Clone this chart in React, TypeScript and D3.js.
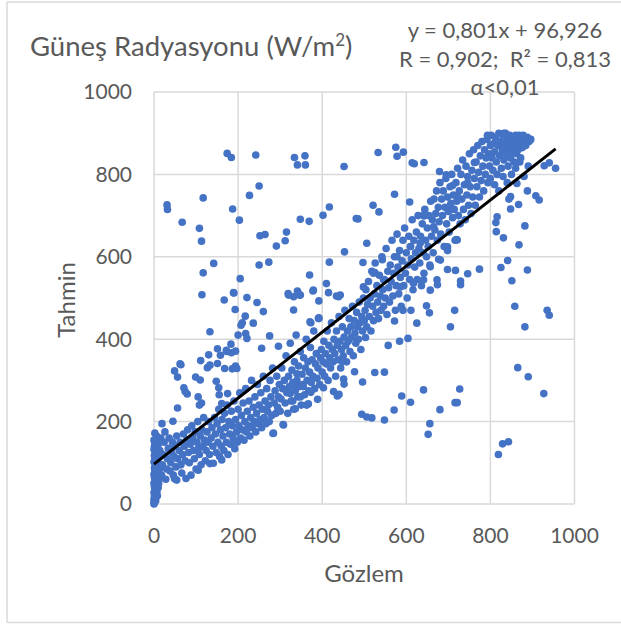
import React from "react";
import * as d3 from "d3";

type Pt = [number, number];

// Gözlem (x) / Tahmin (y) pairs
const nightObs: Pt[] = [
  [0, 5], [0, 12], [1, 20], [0, 28], [2, 35], [1, 42], [0, 50], [3, 58], [1, 65], [0, 72],
  [2, 80], [1, 88], [4, 95], [0, 102], [2, 110], [1, 118], [3, 125], [0, 132], [5, 140], [2, 148],
  [0, 155], [6, 18], [7, 30], [5, 45], [8, 55], [6, 68], [9, 78], [7, 90], [10, 100], [8, 112],
  [11, 122], [9, 135], [12, 60], [13, 85], [4, 8], [3, 15], [2, 25], [5, 38], [1, 52], [4, 62],
  [2, 75], [6, 105], [3, 115], [7, 128], [1, 140], [4, 150], [10, 40], [12, 70], [14, 95], [15, 115],
  [0, 0], [1, 3], [3, 48], [8, 20], [10, 145], [14, 130], [16, 160], [6, 165], [2, 172], [11, 50],
];

const lowBand: Pt[] = [
  [18, 70], [20, 95], [22, 120], [24, 150], [26, 175], [19, 195], [28, 60], [30, 85], [32, 110], [34, 135],
  [36, 160], [38, 80], [40, 100], [42, 125], [44, 150], [45, 201], [46, 70], [48, 115], [50, 140], [52, 90],
  [54, 165], [56, 233], [56, 110], [54, 58], [49, 61], [60, 130], [62, 150], [64, 95], [66, 75], [68, 120],
  [70, 170], [72, 140], [74, 105], [76, 62], [78, 155], [80, 180], [82, 125], [84, 100], [86, 145], [88, 70],
  [90, 190], [92, 160], [94, 130], [96, 110], [98, 175], [100, 85], [102, 150], [104, 200], [105, 82], [106, 135],
  [108, 120], [110, 165], [112, 95], [114, 180], [116, 140], [118, 210], [120, 155], [122, 105], [124, 130], [126, 175],
  [128, 150], [130, 200], [132, 120], [133, 98], [136, 160], [138, 185], [140, 140], [141, 99], [144, 210], [146, 170],
  [148, 125], [150, 195], [152, 150], [154, 230], [156, 115], [158, 180], [160, 140], [161, 107], [162, 205], [164, 165],
  [166, 130], [168, 220], [170, 185], [172, 150], [174, 240], [176, 120], [178, 200], [180, 170], [182, 145], [184, 225],
  [186, 190], [188, 160], [190, 250], [192, 134], [194, 205], [196, 175], [198, 150], [200, 230], [202, 190], [204, 270],
  [206, 160], [208, 215], [210, 180], [212, 245], [214, 155], [216, 200], [218, 280], [220, 175], [222, 225], [224, 190],
  [226, 250], [228, 165], [230, 210], [232, 300], [234, 185], [236, 235], [238, 200], [240, 260], [242, 175], [244, 220],
  [246, 290], [248, 195], [250, 240], [252, 205], [254, 270], [256, 185], [258, 230], [260, 310], [262, 210], [264, 250],
  [266, 195], [268, 280], [270, 225], [272, 240], [274, 200], [276, 300], [278, 260], [280, 215], [282, 330], [284, 172],
  [286, 245], [288, 275], [290, 220], [292, 310], [294, 235], [296, 260], [298, 290], [300, 225], [307, 193], [283, 171],
];

const midBand: Pt[] = [
  [302, 255], [304, 330], [306, 280], [308, 192], [310, 300], [312, 245], [314, 360], [316, 270], [318, 220], [320, 310],
  [322, 285], [324, 390], [326, 250], [328, 325], [330, 295], [332, 230], [334, 345], [336, 275], [338, 410], [340, 300],
  [342, 260], [344, 335], [346, 285], [348, 370], [350, 240], [352, 315], [354, 290], [356, 355], [358, 265], [360, 330],
  [362, 400], [364, 300], [366, 345], [368, 275], [370, 320], [372, 380], [374, 295], [376, 350], [378, 310], [380, 420],
  [382, 280], [384, 340], [386, 365], [388, 305], [390, 330], [392, 450], [394, 290], [396, 355], [398, 375], [400, 320],
  [402, 345], [404, 395], [406, 310], [408, 365], [410, 340], [412, 420], [414, 300], [416, 385], [418, 355], [420, 330],
  [422, 440], [424, 375], [426, 345], [428, 400], [430, 365], [432, 310], [434, 420], [436, 385], [438, 350], [440, 455],
  [442, 395], [444, 330], [446, 375], [448, 430], [450, 360], [452, 405], [454, 470], [456, 385], [458, 345], [460, 420],
  [462, 395], [464, 450], [466, 370], [468, 430], [470, 405], [472, 480], [474, 360], [476, 445], [478, 415], [480, 390],
  [482, 465], [484, 430], [486, 400], [488, 490], [490, 440], [492, 375], [494, 455], [496, 420], [498, 500], [500, 445],
  [502, 470], [504, 520], [506, 430], [508, 485], [510, 540], [512, 455], [514, 500], [516, 420], [518, 565], [520, 480],
  [522, 445], [524, 510], [526, 585], [528, 465], [530, 530], [532, 490], [534, 450], [536, 555], [538, 505], [540, 470],
  [542, 600], [544, 520], [546, 480], [548, 545], [550, 500], [552, 620], [554, 460], [556, 565], [558, 525], [560, 490],
  [562, 580], [564, 540], [566, 640], [568, 505], [570, 560], [572, 600], [574, 470], [576, 530], [578, 655], [580, 575],
  [582, 510], [584, 615], [586, 550], [588, 480], [590, 590], [592, 640], [594, 530], [596, 670], [598, 560], [600, 610],
  [602, 500], [604, 580], [606, 650], [608, 545], [610, 625], [612, 595], [614, 690], [616, 520], [618, 640], [620, 575],
  [622, 610], [624, 660], [626, 545], [628, 700], [630, 620], [632, 585], [634, 650], [636, 530], [638, 680], [640, 610],
  [642, 560], [644, 715], [646, 640], [648, 600], [650, 670],
];

const highBand: Pt[] = [
  [652, 625], [654, 700], [656, 580], [658, 735], [660, 650], [662, 690], [664, 610], [666, 740], [668, 665], [670, 705],
  [672, 760], [674, 640], [676, 720], [678, 685], [680, 780], [682, 655], [684, 740], [686, 700], [688, 760], [690, 625],
  [692, 720], [694, 790], [696, 680], [698, 745], [700, 710], [702, 660], [704, 770], [706, 730], [708, 800], [710, 695],
  [712, 750], [714, 715], [716, 640], [718, 780], [720, 735], [722, 815], [724, 700], [726, 760], [728, 680], [730, 800],
  [732, 740], [734, 835], [736, 715], [738, 775], [740, 690], [742, 820], [744, 750], [746, 795], [748, 725], [750, 850],
  [752, 770], [754, 705], [756, 810], [758, 745], [760, 860], [762, 790], [764, 725], [766, 830], [768, 770], [770, 870],
  [772, 805], [774, 745], [776, 845], [778, 785], [780, 880], [782, 820], [784, 760], [786, 860], [788, 800], [790, 840],
  [792, 885], [794, 780], [796, 850], [798, 820], [800, 870],
];

const topCluster: Pt[] = [
  [802, 895], [804, 840], [806, 810], [808, 875], [810, 855], [812, 890], [814, 830], [816, 800], [818, 870], [820, 900],
  [822, 845], [824, 880], [826, 815], [828, 860], [830, 895], [832, 835], [834, 870], [836, 900], [838, 850], [840, 885],
  [842, 820], [844, 865], [846, 895], [848, 840], [850, 875], [852, 855], [854, 890], [856, 830], [858, 870], [860, 895],
  [862, 850], [864, 880], [866, 860], [868, 895], [870, 875], [872, 840], [874, 890], [876, 865], [878, 895], [880, 880],
  [884, 870], [888, 890], [892, 880], [896, 885], [800, 790], [810, 775], [820, 760], [830, 795], [840, 780], [850, 800],
  [860, 815], [870, 830], [880, 795], [890, 820], [793, 895], [832, 900],
];

const upperScatter: Pt[] = [
  [174, 851], [184, 841], [242, 847], [250, 772], [227, 749], [117, 743], [31, 726], [32, 715], [187, 716], [67, 684],
  [203, 689], [108, 669], [113, 638], [252, 651], [264, 654], [315, 660], [312, 639], [291, 626], [142, 584], [117, 561],
  [250, 580], [273, 587], [205, 547], [114, 508], [190, 512], [319, 511], [334, 841], [359, 845], [341, 823], [360, 823],
  [452, 819], [533, 853], [575, 866], [578, 844], [593, 854], [614, 828], [619, 826], [642, 829], [572, 752], [608, 733],
  [521, 725], [535, 709], [417, 721], [402, 701], [348, 691], [369, 686], [481, 693], [485, 692], [642, 699], [506, 633],
  [453, 612], [417, 587], [497, 586], [543, 593], [370, 556], [410, 535], [525, 562], [378, 517], [342, 514], [415, 513],
  [434, 505], [443, 507], [341, 517], [346, 507], [332, 503], [221, 501], [167, 495], [189, 513], [245, 489], [260, 467],
  [193, 472], [217, 456], [236, 439], [207, 434], [218, 414], [221, 402], [133, 418], [275, 408], [256, 378], [296, 383],
  [320, 507], [348, 507], [379, 519], [439, 503], [332, 471], [371, 442], [391, 451], [392, 493], [392, 452], [373, 440],
  [64, 338], [49, 323], [56, 308], [99, 308], [71, 282], [79, 267], [111, 348], [130, 362], [133, 337], [127, 331],
  [151, 377], [158, 361], [172, 373], [184, 367], [194, 371], [183, 388], [168, 329], [186, 328], [194, 335], [148, 298],
  [154, 282], [155, 265], [175, 268], [105, 260], [113, 245], [108, 240], [62, 340], [74, 273], [110, 301], [151, 341],
  [173, 370], [197, 329], [161, 244], [210, 440], [200, 410], [679, 807], [695, 799], [710, 773], [746, 780], [762, 829],
  [862, 829], [641, 701], [665, 673], [705, 722], [721, 746], [677, 594], [698, 615], [721, 641], [698, 624], [719, 642],
];

const lowerScatter: Pt[] = [
  [448, 345], [451, 303], [452, 291], [477, 321], [496, 296], [525, 319], [548, 320], [403, 282], [427, 273], [440, 266],
  [436, 262], [373, 271], [389, 254], [494, 218], [506, 211], [518, 209], [548, 204], [571, 228], [589, 262], [610, 247],
  [641, 277], [656, 195], [652, 169], [557, 385], [584, 395], [604, 402], [503, 404], [715, 470], [705, 430], [858, 480],
  [882, 430], [935, 470], [940, 458], [727, 279], [716, 246], [721, 246], [680, 229], [865, 331], [890, 309], [927, 268],
  [829, 146], [843, 151], [819, 120], [572, 444], [592, 470], [611, 470], [625, 439], [648, 481], [655, 464], [324, 268],
  [336, 231], [348, 260], [363, 240], [367, 243], [330, 250], [355, 285], [315, 275], [332, 291], [340, 316], [928, 821],
  [940, 828], [955, 815], [844, 740], [848, 716], [867, 727], [888, 760], [908, 748], [916, 738], [813, 683], [814, 661],
  [831, 646], [882, 675], [868, 629], [841, 591], [825, 574], [888, 568], [851, 542], [774, 570], [746, 559], [717, 567],
  [698, 569], [729, 541], [729, 532], [674, 532], [816, 697], [848, 746], [863, 778], [657, 576], [681, 592], [610, 625],
  [633, 633], [578, 600], [546, 544], [522, 560], [498, 527], [586, 527], [617, 536], [641, 544], [657, 519], [673, 544],
];

const allPoints: Pt[] = [
  ...nightObs, ...lowBand, ...midBand, ...highBand, ...topCluster, ...upperScatter, ...lowerScatter,
];

const xTicks = [0, 200, 400, 600, 800, 1000];
const yTicks = [0, 200, 400, 600, 800, 1000];
const slope = 0.801;
const intercept = 96.926;
const eqLines = ["y = 0,801x + 96,926", "R = 0,902;\u00A0 R² = 0,813", "α<0,01"];

const FONT = "Lato, 'Open Sans', sans-serif";
const TXT = "#595959";
const GRID = "#d9d9d9";
const DOT = "#4472C4";

export default function App() {
  const W = 621;
  const H = 624;
  const x = d3.scaleLinear().domain([0, 1000]).range([154, 574.5]);
  const y = d3.scaleLinear().domain([0, 1000]).range([504, 92]);
  const xMax = d3.max(allPoints, (d) => d[0]) ?? 950;
  const trend: Pt[] = [
    [0, intercept],
    [xMax, slope * xMax + intercept],
  ];
  const line = d3
    .line<Pt>()
    .x((d) => x(d[0]))
    .y((d) => y(d[1]));

  return (
    <svg
      width={W}
      height={H}
      style={{ position: "absolute", left: 0, top: 0, background: "#fff" }}
      fontFamily={FONT}
    >
      <rect x={0} y={0} width={W} height={H} fill="#fff" />
      {/* chart frame */}
      <line x1={7} y1={2} x2={W} y2={2} stroke={GRID} strokeWidth={1.5} />
      <line x1={7} y1={2} x2={7} y2={622.5} stroke={GRID} strokeWidth={1.5} />
      <line x1={7} y1={622.5} x2={W} y2={622.5} stroke={GRID} strokeWidth={1.5} />

      {/* grid */}
      {yTicks.map((t) => (
        <line key={"gy" + t} x1={x(0)} x2={x(1000)} y1={y(t)} y2={y(t)} stroke={GRID} strokeWidth={1.5} />
      ))}
      {xTicks.map((t) => (
        <line key={"gx" + t} x1={x(t)} x2={x(t)} y1={y(0)} y2={y(1000)} stroke={GRID} strokeWidth={1.5} />
      ))}

      {/* tick labels */}
      {yTicks.map((t) => (
        <text key={"ty" + t} x={132} y={y(t)} dy="0.35em" textAnchor="end" fontSize={21} fill={TXT}>
          {t}
        </text>
      ))}
      {xTicks.map((t) => (
        <text key={"tx" + t} x={x(t)} y={543} textAnchor="middle" fontSize={21} fill={TXT}>
          {t}
        </text>
      ))}

      {/* points */}
      {allPoints.map((d, i) => (
        <circle key={i} cx={x(d[0])} cy={y(d[1])} r={3.8} fill={DOT} />
      ))}

      {/* trend line */}
      <path d={line(trend) ?? ""} stroke="#000" strokeWidth={3} fill="none" />

      {/* titles */}
      <text x={30} y={56} fontSize={27.5} fill={TXT}>
        Güneş Radyasyonu (W/m
        <tspan dy={-10} fontSize={17}>2</tspan>
        <tspan dy={10}>)</tspan>
      </text>
      {eqLines.map((s, i) => (
        <text key={s} x={505} y={38 + i * 28.5} textAnchor="middle" fontSize={22} fill={TXT}>
          {s}
        </text>
      ))}
      <text x={364} y={582} textAnchor="middle" fontSize={24} fill={TXT}>
        Gözlem
      </text>
      <text transform={`translate(75,300) rotate(-90)`} textAnchor="middle" fontSize={24} fill={TXT}>
        Tahmin
      </text>
    </svg>
  );
}
